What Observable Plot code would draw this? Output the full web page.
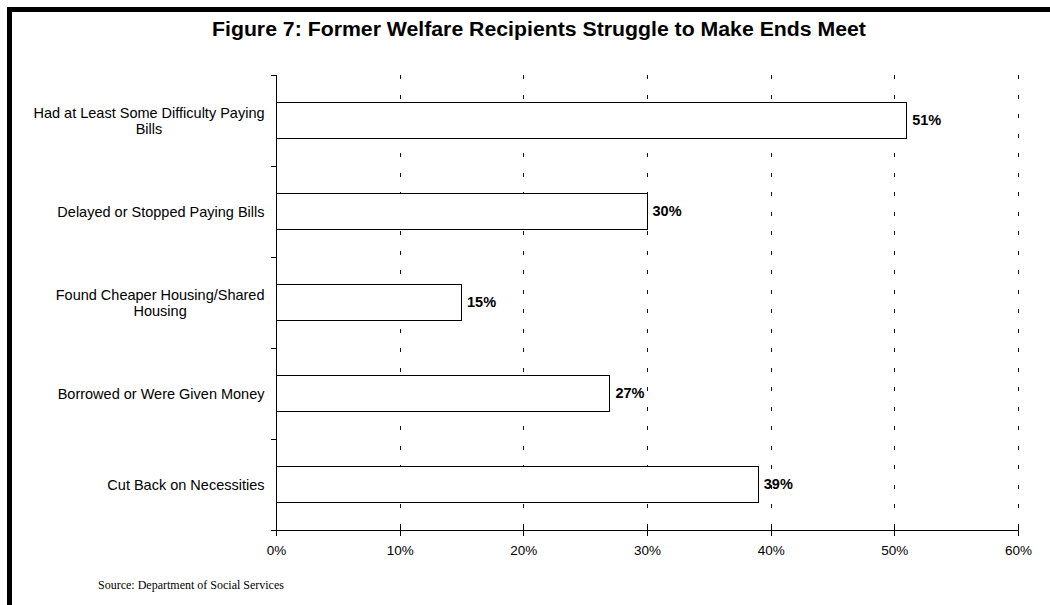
<!DOCTYPE html>
<html><head><meta charset="utf-8">
<script src="https://cdn.jsdelivr.net/npm/d3@7"></script>
<script src="https://cdn.jsdelivr.net/npm/@observablehq/plot@0.6"></script>
<style>
html,body{margin:0;padding:0;background:#fff;}
#wrap{position:relative;width:1050px;height:605px;overflow:hidden;background:#fff;}
#border{position:absolute;left:7px;top:7px;width:1100px;height:700px;border-top:5px solid #000;border-left:5px solid #000;box-sizing:border-box;}
#title{position:absolute;left:0;top:19px;width:1078px;text-align:center;font:bold 19.5px 'Liberation Sans',Arial,sans-serif;line-height:20px;color:#000;transform:scaleX(1.09);white-space:nowrap;}
#chart{position:absolute;left:0;top:0;}
#source{position:absolute;left:98px;top:579px;font:12px 'Liberation Serif','Times New Roman',serif;line-height:12px;color:#000;white-space:nowrap;}
</style></head>
<body>
<div id="wrap">
  <div id="border"></div>
  <div id="chart"></div>
  <div id="title">Figure 7: Former Welfare Recipients Struggle to Make Ends Meet</div>
  <div id="source">Source: Department of Social Services</div>
</div>
<script>
const categories = [
  "Had at Least Some Difficulty Paying Bills",
  "Delayed or Stopped Paying Bills",
  "Found Cheaper Housing/Shared Housing",
  "Borrowed or Were Given Money",
  "Cut Back on Necessities"
];
const labelLines = [
  ["Had at Least Some Difficulty Paying", "Bills"],
  ["Delayed or Stopped Paying Bills"],
  ["Found Cheaper Housing/Shared", "Housing"],
  ["Borrowed or Were Given Money"],
  ["Cut Back on Necessities"]
];
const values = [0.51, 0.30, 0.15, 0.27, 0.39];
const valueLabels = ["51%", "30%", "15%", "27%", "39%"];
const xTicks = [0, 0.1, 0.2, 0.3, 0.4, 0.5, 0.6];
const xTickLabels = ["0%", "10%", "20%", "30%", "40%", "50%", "60%"];

const rows = categories.map((c, i) => ({category: c, value: values[i], label: valueLabels[i], lines: labelLines[i]}));

const FONT = "'Liberation Sans', Arial, sans-serif";
const LABEL_SIZE = 14.5;
const ctx = document.createElement("canvas").getContext("2d");
ctx.font = `${LABEL_SIZE}px 'Liberation Sans'`;

const labelMarks = rows.map(r => {
  const w = Math.max(...r.lines.map(l => ctx.measureText(l).width));
  return Plot.text([r], {
    y: "category", frameAnchor: "left", text: d => d.lines.join("\n"),
    textAnchor: "middle", dx: -12 - w / 2, lineHeight: 1.14,
    fontSize: LABEL_SIZE, fill: "#000"
  });
});

function axisLines(index, scales, values, dims) {
  const {width, height, marginTop, marginRight, marginBottom} = dims;
  const x = scales.x, y = scales.y;
  const g = d3.create("svg:g").attr("stroke", "#000").attr("stroke-width", 1).attr("shape-rendering", "crispEdges");
  const x0 = Math.round(x(0)) + 0.5;
  const yb = Math.round(height - marginBottom) + 0.5;
  g.append("line").attr("x1", x0).attr("x2", x0).attr("y1", marginTop).attr("y2", yb);
  g.append("line").attr("x1", x0).attr("x2", width - marginRight + 0.5).attr("y1", yb).attr("y2", yb);
  const dom = y.domain();
  const inner = (y.step() - y.bandwidth()) / 2;
  const bounds = dom.map(d => y(d) - inner).concat([y(dom[dom.length - 1]) + y.bandwidth() + inner]);
  bounds.forEach(b => {
    const yy = Math.round(b) + 0.5;
    g.append("line").attr("x1", x0 - 6).attr("x2", x0).attr("y1", yy).attr("y2", yy);
  });
  xTicks.forEach(t => {
    const xx = Math.round(x(t)) + 0.5;
    g.append("line").attr("x1", xx).attr("x2", xx).attr("y1", yb - 5).attr("y2", yb + 5);
  });
  return g.node();
}

const plot = Plot.plot({
  width: 1050, height: 605,
  marginLeft: 276, marginRight: 32, marginTop: 75, marginBottom: 75,
  style: {fontFamily: FONT, fontSize: "14px", color: "#000", background: "transparent", overflow: "visible"},
  x: {domain: [0, 0.6], axis: null, label: null},
  y: {domain: categories, paddingInner: 0.6, paddingOuter: 0.3, axis: null, label: null},
  marks: [
    Plot.ruleX(xTicks.filter(d => d > 0), {stroke: "#111", strokeWidth: 1, strokeDasharray: "4,15.5", shapeRendering: "crispEdges"}),
    Plot.barX(rows, {x: "value", y: "category", fill: "#fff", stroke: "#000", strokeWidth: 1, shapeRendering: "crispEdges"}),
    Plot.text(rows, {x: "value", y: "category", text: "label", dx: 5, textAnchor: "start", fontWeight: "bold", fontSize: 14.5, fill: "#000"}),
    Plot.axisX({ticks: xTicks, tickSize: 0, tickPadding: 15, label: null, tickFormat: d => xTickLabels[xTicks.indexOf(d)], fontSize: 13.5, fill: "#000"}),
    axisLines,
    ...labelMarks
  ]
});
document.getElementById("chart").appendChild(plot);
</script>
</body></html>
